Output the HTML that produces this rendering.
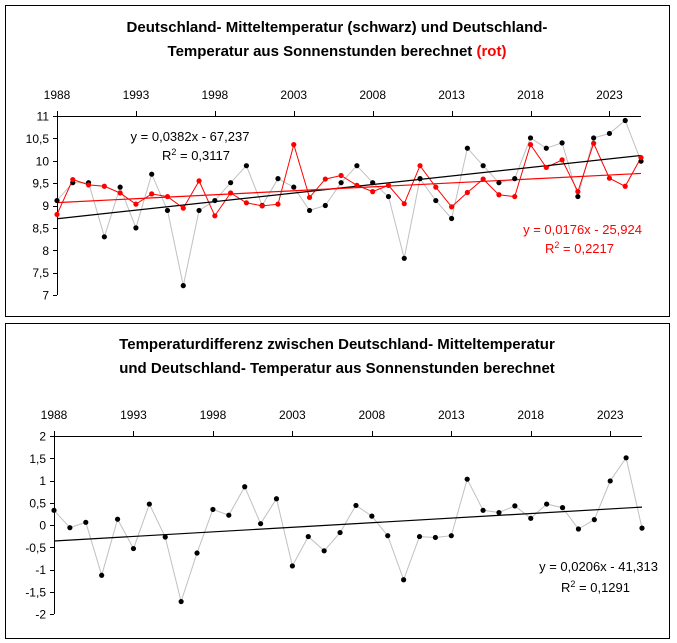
<!DOCTYPE html>
<html><head><meta charset="utf-8">
<style>
html,body{margin:0;padding:0;background:#fff;}
svg{display:block;font-family:"Liberation Sans",Arial,sans-serif;}
</style></head>
<body>
<svg id="c" width="677" height="643" viewBox="0 0 677 643" xmlns="http://www.w3.org/2000/svg">
<rect x="5.5" y="5.5" width="664" height="311" fill="#fff" stroke="#000" stroke-width="1"/>
<rect x="5.5" y="323.5" width="664" height="315" fill="#fff" stroke="#000" stroke-width="1"/>
<text x="337" y="32" text-anchor="middle" font-size="15" font-weight="bold">Deutschland- Mitteltemperatur (schwarz) und Deutschland-</text>
<text x="337" y="56" text-anchor="middle" font-size="15" font-weight="bold">Temperatur aus Sonnenstunden berechnet <tspan fill="#ff0000">(rot)</tspan></text>
<text x="337" y="349" text-anchor="middle" font-size="15" font-weight="bold">Temperaturdifferenz zwischen Deutschland- Mitteltemperatur</text>
<text x="337" y="373" text-anchor="middle" font-size="15" font-weight="bold">und Deutschland- Temperatur aus Sonnenstunden berechnet</text>
<g id="top"></g>
<g id="bot"></g>
<text x="190" y="141" text-anchor="middle" font-size="13">y = 0,0382x - 67,237</text>
<text x="196" y="160" text-anchor="middle" font-size="13">R<tspan font-size="9" dy="-5">2</tspan><tspan dy="5"> = 0,3117</tspan></text>
<text x="642" y="234" text-anchor="end" font-size="13" fill="#ff0000">y = 0,0176x - 25,924</text>
<text x="614" y="253" text-anchor="end" font-size="13" fill="#ff0000">R<tspan font-size="9" dy="-5">2</tspan><tspan dy="5"> = 0,2217</tspan></text>
<text x="658" y="571" text-anchor="end" font-size="13">y = 0,0206x - 41,313</text>
<text x="630" y="592" text-anchor="end" font-size="13">R<tspan font-size="9" dy="-5">2</tspan><tspan dy="5"> = 0,1291</tspan></text>
</svg>
<script>
const years = [];
for (let y = 1988; y <= 2025; y++) years.push(y);
const meanTemp = [9.11,9.51,9.51,8.30,9.41,8.50,9.70,8.89,7.21,8.89,9.11,9.51,9.89,9.00,9.60,9.41,8.89,9.00,9.51,9.89,9.51,9.20,7.82,9.60,9.11,8.71,10.28,9.89,9.51,9.60,10.51,10.28,10.40,9.20,10.51,10.61,10.90,9.99];
const sunTemp = [8.80,9.58,9.46,9.43,9.28,9.03,9.26,9.20,8.94,9.55,8.77,9.28,9.06,8.99,9.03,10.36,9.18,9.59,9.67,9.45,9.31,9.45,9.04,9.89,9.41,8.97,9.29,9.59,9.24,9.20,10.36,9.85,10.02,9.31,10.39,9.61,9.43,10.07];
const diffTemp = [0.33,-0.06,0.06,-1.13,0.13,-0.53,0.47,-0.27,-1.72,-0.63,0.35,0.22,0.86,0.03,0.59,-0.92,-0.26,-0.58,-0.17,0.44,0.20,-0.24,-1.23,-0.26,-0.28,-0.24,1.03,0.33,0.28,0.43,0.15,0.47,0.39,-0.09,0.12,0.99,1.51,-0.07];
const blackTrend = [0.0382, -67.237];
const redTrend = [0.0176, -25.924];
const diffTrend = [0.0206, -41.313];
const xTickYears = [1988,1993,1998,2003,2008,2013,2018,2023];
const topYTicks = [11,10.5,10,9.5,9,8.5,8,7.5,7];
const botYTicks = [2,1.5,1,0.5,0,-0.5,-1,-1.5,-2];

const NS = "http://www.w3.org/2000/svg";
function mk(tag, attrs, parent){const e=document.createElementNS(NS,tag);for(const k in attrs)e.setAttribute(k,attrs[k]);parent.appendChild(e);return e;}
function fmt(v){return String(v).replace('.',',');}

function chart(g, cfg){
  const xs = y => cfg.x0 + (y - years[0]) * (cfg.x1 - cfg.x0) / (years[years.length-1] - years[0]);
  const ys = v => cfg.yTop + (cfg.vMax - v) * (cfg.yBot - cfg.yTop) / (cfg.vMax - cfg.vMin);
  // axes
  const xa = mk('line',{x1:cfg.x0,y1:cfg.yTop+0.5,x2:cfg.x1,y2:cfg.yTop+0.5,stroke:'#000'},g);
  
  
  const ya = mk('line',{x1:cfg.x0+0.5,y1:cfg.yTop,x2:cfg.x0+0.5,y2:cfg.yBot,stroke:'#000'},g);
  
  
  xTickYears.forEach(yr=>{
    const x = Math.round(xs(yr))+0.5;
    const t = mk('line',{x1:x,y1:cfg.yTop-5,x2:x,y2:cfg.yTop,stroke:'#000'},g);
    
    
    const l = mk('text',{x:xs(yr),y:cfg.yTop-17,'text-anchor':'middle','font-size':12},g);
    l.textContent = yr;
    
    
  });
  cfg.yt.forEach(v=>{
    const y = Math.round(ys(v))+0.5;
    const t = mk('line',{x1:cfg.x0-4,y1:y,x2:cfg.x0,y2:y,stroke:'#000'},g);
    
    
    const l = mk('text',{x:cfg.x0-8,y:ys(v)+4.5,'text-anchor':'end','font-size':12},g);
    l.textContent = fmt(v);
    
    
  });
  cfg.series.forEach(s=>{
    const pts = s.data.map((v,i)=>xs(years[i]).toFixed(1)+','+ys(v).toFixed(1)).join(' ');
    const pl = mk('polyline',{points:pts,fill:'none',stroke:s.line,'stroke-width':1},g);
    
    
  });
  cfg.trends.forEach(t=>{
    const a=years[0], b=years[years.length-1];
    const tl = mk('line',{x1:xs(a),y1:ys(t.c[0]*a+t.c[1]),x2:xs(b),y2:ys(t.c[0]*b+t.c[1]),stroke:t.col,'stroke-width':1.2},g);
    
    
  });
  cfg.series.forEach(s=>{
    s.data.forEach((v,i)=>{
      const c = mk('circle',{cx:xs(years[i]),cy:ys(v),r:2.6,fill:s.dot},g);
      
      
    });
  });
}
chart(document.getElementById('top'),{p:'top-',x0:57,x1:641,yTop:116,yBot:295,vMax:11,vMin:7,yt:topYTicks,
  series:[{name:'mean-temp',data:meanTemp,line:'#c0c0c0',dot:'#000'},{name:'sun-temp',data:sunTemp,line:'#ff0000',dot:'#ff0000'}],
  trends:[{name:'mean-temp-trend',c:blackTrend,col:'#000'},{name:'sun-temp-trend',c:redTrend,col:'#ff0000'}]});
chart(document.getElementById('bot'),{p:'bottom-',x0:54,x1:642,yTop:436,yBot:614,vMax:2,vMin:-2,yt:botYTicks,
  series:[{name:'diff-temp',data:diffTemp,line:'#c0c0c0',dot:'#000'}],
  trends:[{name:'diff-temp-trend',c:diffTrend,col:'#000'}]});
</script>
</body></html>
